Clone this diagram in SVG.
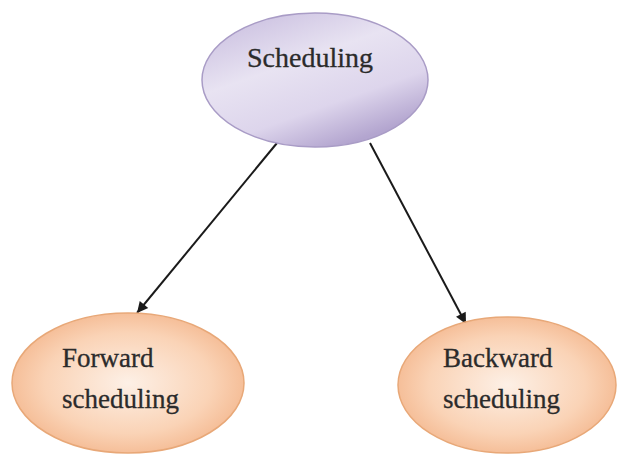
<svg xmlns="http://www.w3.org/2000/svg" width="618" height="455" viewBox="0 0 618 455">
<defs>
<linearGradient id="gPurple" x1="0" y1="0" x2="0.6" y2="1">
<stop offset="0" stop-color="#c4b8dc"/>
<stop offset="0.45" stop-color="#e8e3f2"/>
<stop offset="0.75" stop-color="#ddd5ec"/>
<stop offset="1" stop-color="#b3a5cf"/>
</linearGradient>
<radialGradient id="gOrange" cx="0.5" cy="0.5" r="0.6">
<stop offset="0" stop-color="#fdf0e6"/>
<stop offset="0.6" stop-color="#fad3b6"/>
<stop offset="1" stop-color="#f2b084"/>
</radialGradient>
<marker id="arrow" viewBox="0 0 10 10" refX="10" refY="5" markerWidth="13" markerHeight="11" markerUnits="userSpaceOnUse" orient="auto">
<path d="M0,0 L10,5 L0,10 z" fill="#1a1a1a"/>
</marker>
</defs>
<style>
.lbl{font-family:"Liberation Serif","Times New Roman",serif;fill:#2b2b2b;stroke:#2b2b2b;stroke-width:0.3;}
.edge{stroke:#1a1a1a;stroke-width:2;fill:none;}
</style>
<rect width="618" height="455" fill="#ffffff"/>
<g id="connectors">
<line class="edge" x1="277" y1="143" x2="137" y2="313" marker-end="url(#arrow)"/>
<line class="edge" x1="370" y1="143" x2="466" y2="324" marker-end="url(#arrow)"/>
</g>
<g id="scheduling">
<ellipse cx="315" cy="80" rx="113" ry="67" fill="url(#gPurple)" stroke="#a99cc6" stroke-width="1.5"/>
<text class="lbl" x="310" y="67" font-size="28" text-anchor="middle">Scheduling</text>
</g>
<g id="forward">
<ellipse cx="128" cy="383" rx="116" ry="70" fill="url(#gOrange)" stroke="#e8a878" stroke-width="1.5"/>
<text class="lbl" x="62" y="367" font-size="27">Forward</text>
<text class="lbl" x="62" y="408" font-size="27">scheduling</text>
</g>
<g id="backward">
<ellipse cx="507" cy="385" rx="109" ry="68" fill="url(#gOrange)" stroke="#e8a878" stroke-width="1.5"/>
<text class="lbl" x="443" y="367" font-size="27">Backward</text>
<text class="lbl" x="443" y="408" font-size="27">scheduling</text>
</g>
</svg>
